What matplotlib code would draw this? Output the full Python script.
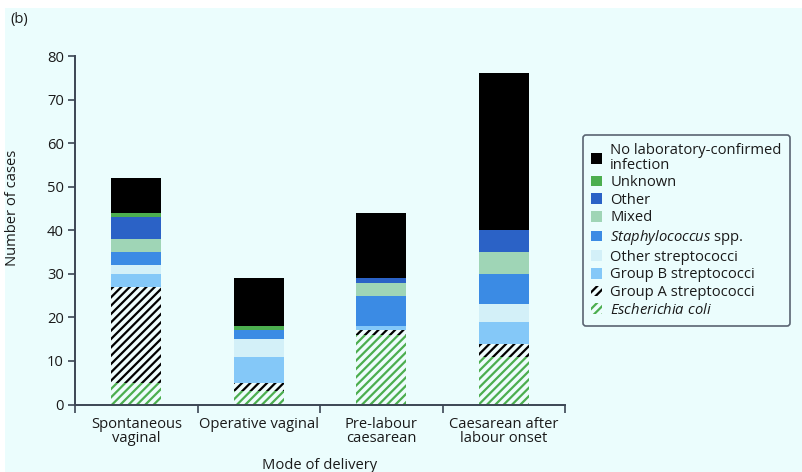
import matplotlib
matplotlib.use("Agg")
import matplotlib.pyplot as plt
from matplotlib.patches import Rectangle
import numpy as np

plt.rcParams['font.family'] = ['Open Sans', 'DejaVu Sans']
plt.rcParams['mathtext.fontset'] = 'custom'
plt.rcParams['mathtext.it'] = 'Open Sans:italic'
plt.rcParams['mathtext.rm'] = 'Open Sans'
plt.rcParams['hatch.linewidth'] = 1.6

# Mode of delivery categories
categories = ["Spontaneous\nvaginal", "Operative vaginal", "Pre-labour\ncaesarean",
              "Caesarean after\nlabour onset"]

# Case counts per organism (stacked bottom to top)
e_coli        = [5, 3, 16, 11]
group_a_strep = [22, 2, 1, 3]
group_b_strep = [3, 6, 1, 5]
other_strep   = [2, 4, 0, 4]
staph         = [3, 2, 7, 7]
mixed         = [3, 0, 3, 5]
other         = [5, 0, 1, 5]
unknown       = [1, 1, 0, 0]
no_lab        = [8, 11, 15, 36]

series = [
    (r"$\mathit{Escherichia\ coli}$", e_coli, "#eefcfc", "#4cae4f", "////"),
    ("Group A streptococci", group_a_strep, "#eefcfc", "#000000", "////"),
    ("Group B streptococci", group_b_strep, "#84c8f8", None, None),
    ("Other streptococci", other_strep, "#d3f0f8", None, None),
    (r"$\mathit{Staphylococcus}$ spp.", staph, "#3b8be4", None, None),
    ("Mixed", mixed, "#9fd5b6", None, None),
    ("Other", other, "#2b62c6", None, None),
    ("Unknown", unknown, "#4cae4f", None, None),
    ("No laboratory-confirmed\ninfection", no_lab, "#000000", None, None),
]

bg = "#ebfdfd"
axis_col = "#3c4654"
text_col = "#1a1a1a"
fs = 10.6

fig = plt.figure(figsize=(8.02, 4.72), dpi=100, facecolor="white")
fig.patches.append(Rectangle((5 / 802, 0), 1, 1 - 8 / 472, transform=fig.transFigure,
                             facecolor=bg, edgecolor="none", zorder=-10))

ax = fig.add_axes([75 / 802, (472 - 404.5) / 472, 490 / 802, 348.5 / 472])
ax.set_facecolor("none")

x = np.arange(len(categories)) + 0.5
width = 0.41
bottom = np.zeros(len(categories))
handles = []
for label, vals, fc, hc, hatch in series:
    vals = np.array(vals, dtype=float)
    if hatch:
        b = ax.bar(x, vals, width, bottom=bottom, color=fc, edgecolor=hc,
                   hatch=hatch, linewidth=0, label=label)
    else:
        b = ax.bar(x, vals, width, bottom=bottom, color=fc, edgecolor="none",
                   linewidth=0, label=label)
    handles.append(b)
    bottom += vals

ax.set_xlim(0, 4)
ax.set_ylim(0, 80)
ax.set_yticks(np.arange(0, 81, 10))
ax.set_xticks(np.arange(0, 5))
ax.set_xticklabels([])
ax.set_xticks(x, minor=True)
ax.set_xticklabels(categories, minor=True, color=text_col, fontsize=fs, linespacing=0.95)
ax.tick_params(axis="x", which="minor", length=0, pad=9)
ax.tick_params(axis="x", which="major", length=6, width=1.2, color=axis_col, direction="out")
ax.tick_params(axis="y", length=5, width=1.2, color=axis_col, labelsize=fs,
               labelcolor=text_col, pad=3)
for s in ("top", "right"):
    ax.spines[s].set_visible(False)
for s in ("left", "bottom"):
    ax.spines[s].set_color(axis_col)
    ax.spines[s].set_linewidth(1.4)

ax.set_xlabel("Mode of delivery", fontsize=fs, color=text_col, labelpad=8)
ax.set_ylabel("Number of cases", fontsize=fs, color=text_col)
ax.yaxis.set_label_coords(-0.112, 0.565)

fig.text(10 / 802, 1 - 19 / 472, "(b)", fontsize=fs, color=text_col, va="center")

leg = ax.legend(handles[::-1], [h.get_label() for h in handles[::-1]],
                loc="upper left", bbox_to_anchor=(583 / 802, 1 - 135 / 472),
                bbox_transform=fig.transFigure, fontsize=fs, frameon=True,
                fancybox=True, edgecolor="#5a6472", facecolor=bg, framealpha=1,
                handlelength=0.75, handleheight=0.75, handletextpad=0.55,
                labelspacing=0.18, borderpad=0.55, borderaxespad=0)
leg.get_frame().set_linewidth(1.2)
for t in leg.get_texts():
    t.set_color(text_col)
    t.set_linespacing(0.95)

fig.savefig("out.png", dpi=100, facecolor="white")
